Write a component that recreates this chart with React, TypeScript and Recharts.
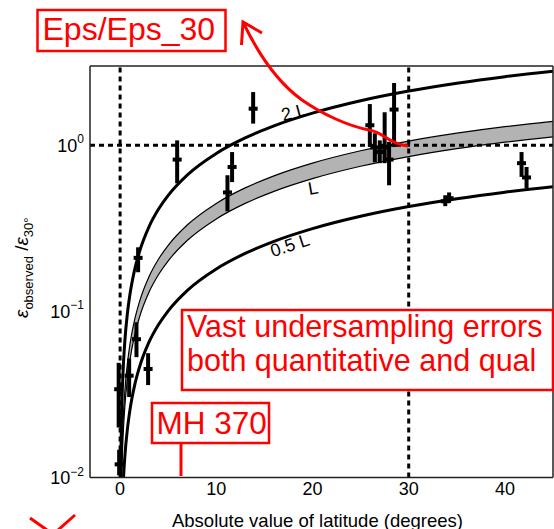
import React from "react";
import {
  ComposedChart,
  XAxis,
  YAxis,
  Line,
  Area,
  Scatter,
  ErrorBar,
  ReferenceLine,
  ReferenceDot,
} from "recharts";

const FONT = "'Liberation Sans', Arial, Helvetica, sans-serif";
const FRAME = "#222";
const RED = "#ff0000";

// model curves
const CURVE_LAT = [0.05, 0.1, 0.2, 0.3, 0.5, 0.75, 1, 1.5, 2, 3, 4, 5, 7, 10, 13, 16, 20, 25, 30, 35, 40, 45];
const BAND_HIGH = [0.00422, 0.00792, 0.0148, 0.0213, 0.0336, 0.0481, 0.062, 0.0885, 0.1137, 0.1615, 0.2066, 0.2498, 0.332, 0.4467, 0.5537, 0.6546, 0.7806, 0.9263, 1.06, 1.182, 1.294, 1.394];
const BAND_LOW = [0.0034, 0.00639, 0.0119, 0.0172, 0.0271, 0.0388, 0.05, 0.0714, 0.0917, 0.1303, 0.1666, 0.2015, 0.2678, 0.3603, 0.4467, 0.528, 0.6296, 0.7472, 0.855, 0.9537, 1.0435, 1.1245];
const TWO_L = [0.00844, 0.0158, 0.0296, 0.0426, 0.0672, 0.0963, 0.124, 0.177, 0.2275, 0.3231, 0.4132, 0.4997, 0.664, 0.8934, 1.1075, 1.309, 1.561, 1.853, 2.12, 2.365, 2.588, 2.788];
const HALF_L = [0.0017, 0.00319, 0.00597, 0.00859, 0.01355, 0.0194, 0.025, 0.0357, 0.0459, 0.0652, 0.0833, 0.1008, 0.1339, 0.1801, 0.2233, 0.264, 0.3148, 0.3736, 0.4275, 0.4768, 0.5218, 0.5622];

// observations with error bars
const OBS_LAT = [-0.1, -0.15, 0.94, 1.7, 1.87, 2.91, 5.93, 11.16, 11.64, 13.83, 25.96, 26.48, 26.99, 27.5, 27.96, 28.48, 33.8, 34.2, 41.73, 42.25];
const OBS_VAL = [0.012, 0.034, 0.041, 0.068, 0.21, 0.045, 0.82, 0.52, 0.74, 1.66, 1.32, 0.97, 0.91, 0.97, 0.82, 1.64, 0.46, 0.48, 0.78, 0.64];
const OBS_LOW = [0.0103, 0.02, 0.0305, 0.053, 0.172, 0.036, 0.59, 0.4, 0.6, 1.35, 0.977, 0.79, 0.78, 0.78, 0.574, 0.977, 0.43, 0.45, 0.645, 0.55];
const OBS_HIGH = [0.0147, 0.049, 0.052, 0.086, 0.243, 0.056, 1.07, 0.66, 0.91, 2.09, 1.77, 1.18, 1.07, 1.58, 1.05, 2.37, 0.5, 0.52, 0.91, 0.74];

const X_DOMAIN = [-3.13, 45];
const Y_DOMAIN = [0.01, 3];
const X_TICKS = [0, 10, 20, 30, 40];
const X_MINOR = [-2, -1, 0, 1, 2, 3, 4, 5, 6, 7, 8, 9, 10, 11, 12, 13, 14, 15, 16, 17, 18, 19, 20, 21, 22, 23, 24, 25, 26, 27, 28, 29, 30, 31, 32, 33, 34, 35, 36, 37, 38, 39, 40, 41, 42, 43, 44];
const Y_TICKS = [0.01, 0.1, 1];
const Y_TICK_EXP = ["\u22122", "\u22121", "0"];
const Y_MINOR = [0.02, 0.03, 0.04, 0.05, 0.06, 0.07, 0.08, 0.09, 0.2, 0.3, 0.4, 0.5, 0.6, 0.7, 0.8, 0.9, 2];

const CURVE_LABELS = ["2 L", "L", "0.5 L"];
const CURVE_LABEL_LAT = [18.06, 20.06, 17.66];
const CURVE_LABEL_VAL = [1.58, 0.551, 0.25];
const CURVE_LABEL_ANGLE = [-15, -10, -18];

const curveRows = CURVE_LAT.map((lat, i) => ({
  lat,
  band: [BAND_LOW[i], BAND_HIGH[i]],
  twoL: TWO_L[i],
  halfL: HALF_L[i],
}));

const obsRows = OBS_LAT.map((lat, i) => ({
  lat,
  val: OBS_VAL[i],
  err: [OBS_VAL[i] - OBS_LOW[i], OBS_HIGH[i] - OBS_VAL[i]],
}));

const tickLine = { stroke: FRAME, strokeWidth: 1.5 };
const frameLine = { stroke: FRAME, strokeWidth: 1.5 };

function YTick(props: any) {
  const { x, y, payload } = props;
  const i = Y_TICKS.indexOf(payload.value);
  return (
    <text x={x} y={y + 6.5} textAnchor="end" fontSize={18} fontFamily={FONT} fill="#000">
      10
      <tspan dy={-8.5} fontSize={12}>
        {Y_TICK_EXP[i]}
      </tspan>
    </text>
  );
}

function renderXTitle(props: any) {
  const vb = props.viewBox;
  return (
    <text
      x={vb.x + vb.width / 2 - 4}
      y={vb.y + 49}
      textAnchor="middle"
      fontSize={18.5}
      fontFamily={FONT}
      fill="#000"
    >
      Absolute value of latitude (degrees)
    </text>
  );
}

function renderYTitle(props: any) {
  const vb = props.viewBox;
  const cx = vb.x + 28;
  const cy = vb.y + vb.height / 2 - 4;
  return (
    <text
      x={cx}
      y={cy}
      transform={`rotate(-90 ${cx} ${cy})`}
      textAnchor="middle"
      fontSize={19}
      fontFamily={FONT}
      fill="#000"
    >
      <tspan fontStyle="italic">ε</tspan>
      <tspan fontSize={13} dy={5}>observed</tspan>
      <tspan dy={-5}> /</tspan>
      <tspan fontStyle="italic">ε</tspan>
      <tspan fontSize={13} dy={5}>30°</tspan>
    </text>
  );
}

function Dash(props: any) {
  const { cx, cy } = props;
  if (cx == null || cy == null) return <g />;
  return <rect x={cx - 4.5} y={cy - 2} width={9} height={4} fill="#000" />;
}

export default function App() {
  return (
    <div
      style={{
        position: "fixed",
        left: 0,
        top: 0,
        width: 554,
        height: 529,
        overflow: "hidden",
        background: "#fff",
      }}
    >
      <ComposedChart
        width={554}
        height={529}
        data={curveRows}
        margin={{ top: 66, right: 1, bottom: 0, left: 0 }}
      >
        {/* bottom: labels + frame, then inward ticks */}
        <XAxis
          xAxisId="xb"
          dataKey="lat"
          type="number"
          domain={X_DOMAIN}
          allowDataOverflow
          ticks={X_TICKS}
          interval={0}
          height={51.5}
          tickLine={false}
          tickSize={0}
          tickMargin={5}
          axisLine={frameLine}
          tick={{ fontSize: 18, fill: "#000", fontFamily: FONT }}
          label={renderXTitle}
        />
        <XAxis xAxisId="xbMaj" dataKey="lat" type="number" domain={X_DOMAIN} allowDataOverflow mirror height={1}
          ticks={X_TICKS} interval={0} tickSize={9} tick={false} axisLine={false} tickLine={tickLine} />
        <XAxis xAxisId="xbMin" dataKey="lat" type="number" domain={X_DOMAIN} allowDataOverflow mirror height={1}
          ticks={X_MINOR} interval={0} tickSize={5} tick={false} axisLine={false} tickLine={tickLine} />
        <XAxis xAxisId="xtMaj" dataKey="lat" type="number" orientation="top" domain={X_DOMAIN} allowDataOverflow mirror height={1}
          ticks={X_TICKS} interval={0} tickSize={9} tick={false} axisLine={frameLine} tickLine={tickLine} />
        <XAxis xAxisId="xtMin" dataKey="lat" type="number" orientation="top" domain={X_DOMAIN} allowDataOverflow mirror height={1}
          ticks={X_MINOR} interval={0} tickSize={5} tick={false} axisLine={false} tickLine={tickLine} />

        {/* left: labels + frame, then inward ticks; right: ticks + frame */}
        <YAxis
          yAxisId="yl"
          dataKey="val"
          scale="log"
          type="number"
          domain={Y_DOMAIN}
          allowDataOverflow
          ticks={Y_TICKS}
          interval={0}
          width={90}
          tickLine={false}
          tickSize={0}
          tickMargin={6}
          axisLine={frameLine}
          tick={<YTick />}
          label={renderYTitle}
        />
        <YAxis yAxisId="ylMaj" scale="log" type="number" domain={Y_DOMAIN} allowDataOverflow mirror width={1}
          ticks={Y_TICKS} interval={0} tickSize={9} tick={false} axisLine={false} tickLine={tickLine} />
        <YAxis yAxisId="ylMin" scale="log" type="number" domain={Y_DOMAIN} allowDataOverflow mirror width={1}
          ticks={Y_MINOR} interval={0} tickSize={5} tick={false} axisLine={false} tickLine={tickLine} />
        <YAxis yAxisId="yrMaj" orientation="right" scale="log" type="number" domain={Y_DOMAIN} allowDataOverflow mirror width={1}
          ticks={Y_TICKS} interval={0} tickSize={9} tick={false} axisLine={frameLine} tickLine={tickLine} />
        <YAxis yAxisId="yrMin" orientation="right" scale="log" type="number" domain={Y_DOMAIN} allowDataOverflow mirror width={1}
          ticks={Y_MINOR} interval={0} tickSize={5} tick={false} axisLine={false} tickLine={tickLine} />

        <ReferenceLine xAxisId="xb" yAxisId="yl" x={0} stroke="#000" strokeWidth={3} strokeDasharray="5 4" />
        <ReferenceLine xAxisId="xb" yAxisId="yl" x={30} stroke="#000" strokeWidth={3} strokeDasharray="5 4" />
        <ReferenceLine xAxisId="xb" yAxisId="yl" y={1} stroke="#000" strokeWidth={3} strokeDasharray="5 4" />

        <Area
          xAxisId="xb"
          yAxisId="yl"
          dataKey="band"
          type="monotone"
          fill="#b3b3b3"
          fillOpacity={1}
          stroke="#000"
          strokeWidth={1.2}
          dot={false}
          activeDot={false}
          isAnimationActive={false}
        />
        <Line xAxisId="xb" yAxisId="yl" dataKey="twoL" type="monotone" stroke="#000" strokeWidth={3}
          dot={false} activeDot={false} isAnimationActive={false} />
        <Line xAxisId="xb" yAxisId="yl" dataKey="halfL" type="monotone" stroke="#000" strokeWidth={3}
          dot={false} activeDot={false} isAnimationActive={false} />

        <Scatter
          xAxisId="xb"
          yAxisId="yl"
          data={obsRows}
          dataKey="val"
          shape={<Dash />}
          isAnimationActive={false}
        >
          <ErrorBar dataKey="err" direction="y" width={0} stroke="#000" strokeWidth={4} isAnimationActive={false} />
        </Scatter>

        {CURVE_LABELS.map((text, i) => (
          <ReferenceDot
            key={text}
            xAxisId="xb"
            yAxisId="yl"
            x={CURVE_LABEL_LAT[i]}
            y={CURVE_LABEL_VAL[i]}
            r={0}
            shape={(p: any) => (
              <text
                x={p.cx}
                y={p.cy}
                transform={`rotate(${CURVE_LABEL_ANGLE[i]} ${p.cx} ${p.cy})`}
                textAnchor="middle"
                dominantBaseline="central"
                fontSize={18}
                fontFamily={FONT}
                fill="#000"
              >
                {text}
              </text>
            )}
          />
        ))}
      </ComposedChart>

      {/* red annotations drawn over the figure */}
      <svg
        width={554}
        height={529}
        style={{ position: "absolute", left: 0, top: 0, pointerEvents: "none" }}
      >
        <g fontFamily={FONT} fill={RED}>
          <rect x={37.5} y={10} width={188} height={41} fill="#fff" stroke={RED} strokeWidth={2.5} />
          <text x={42.5} y={40} fontSize={32}>Eps/Eps_30</text>

          <rect x={182} y={310} width={371} height={80} fill="#fff" stroke={RED} strokeWidth={2.5} />
          <text fontSize={30.5}>
            <tspan x={187} y={336.5}>Vast undersampling errors</tspan>
            <tspan x={187} y={370.5}>both quantitative and qual</tspan>
          </text>

          <rect x={152} y={403} width={117} height={40} fill="#fff" stroke={RED} strokeWidth={2.5} />
          <text x={156.5} y={433.5} fontSize={31.5}>MH 370</text>
        </g>
        <g stroke={RED} strokeWidth={3} fill="none">
          <path d="M181 443 L181 476" />
          <path d="M408 146 C398 145, 391 141, 385 137 C379 133, 375 131, 369 130 C348 126, 322 114, 302 100 C284 87, 262 62, 243 22" />
          <path d="M241.5 45 L243 22 L262 33" />
          <path d="M30 518 L47 530" />
          <path d="M75 515 L58 530" />
        </g>
      </svg>
    </div>
  );
}
